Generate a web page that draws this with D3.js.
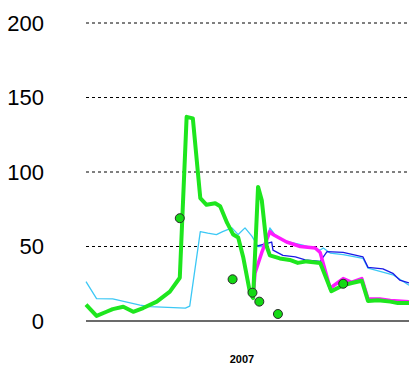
<!DOCTYPE html>
<html>
<head>
<meta charset="utf-8">
<script src="https://cdn.jsdelivr.net/npm/d3@7"></script>
<style>
  body { margin: 0; background: #fff; }
  svg { display: block; }
</style>
</head>
<body>
<div id="chart"></div>
<script>
// values: [week of 2007, value]
const yTicks = [0, 50, 100, 150, 200];
const xLabel = "2007";

const greenSeries = [
    [0, 11], [1.7, 3.4], [3.3, 6.2], [4.3, 8], [6, 9.6], [7.6, 6.2], [9.2, 8.7],
    [11.4, 13], [13.5, 19.7], [15.1, 29], [16.2, 137], [17.2, 136], [18.4, 82.5],
    [19.4, 78], [20.8, 79], [21.6, 77], [22.7, 66], [23.7, 58], [24.5, 56],
    [25.3, 43], [26.4, 19], [26.9, 15.4], [27.7, 90], [28.3, 81], [29.1, 50],
    [29.6, 44], [31.2, 42], [32.8, 41], [34.1, 39], [35.5, 40], [37.7, 39],
    [39.5, 20], [41.4, 24], [42.8, 25.5], [44.4, 27], [45.4, 13.5], [47, 14],
    [49, 13], [50.2, 12], [52, 12]
];

const magentaSeries = [
    [26.9, 15], [27.2, 32], [28.3, 46], [29.6, 60], [30.1, 58], [32.3, 53],
    [34.5, 50], [36.9, 49], [37.7, 46], [39.3, 22], [41.4, 28.5], [42.8, 26],
    [44.4, 28.5], [45.4, 14.8], [47.3, 14.8], [49, 13.8], [52, 13]
];

const blueSeries = [
    [27.3, 50], [29.9, 53], [30.1, 47.6], [31.7, 44], [33.7, 43], [35.3, 41],
    [37.7, 40], [38.8, 46.5], [41.4, 46], [44.6, 43], [45.4, 36], [47.8, 35],
    [49.4, 32], [50.5, 27.5], [52, 25.5]
];

const cyanSeries = [
    [0, 26.4], [1.7, 15], [4.3, 14.8], [8.7, 10.7], [10.3, 9.6], [16, 8.7],
    [16.7, 10], [18.4, 60], [19.6, 59], [21, 58], [22, 60], [23.5, 62.5],
    [24.5, 58], [25.6, 62.5], [26.7, 57], [27.7, 50], [28.8, 50], [29.6, 62.5],
    [30.4, 58], [31.7, 54], [34.9, 51], [37.7, 47.6], [38.2, 49], [39.3, 45.6],
    [41.4, 44.5], [44.6, 42], [45.4, 35.5], [49.4, 31], [52, 24]
];

const dotPoints = [
    [15.1, 69], [23.6, 28], [26.8, 19], [27.9, 13], [30.9, 4.7], [41.4, 25]
];

const width = 409, height = 367;
const margin = { top: 23, right: 0, bottom: 46, left: 86 };

const svg = d3.select("#chart")
    .append("svg")
    .attr("width", width)
    .attr("height", height);

const xScale = d3.scaleLinear()
    .domain([0, 52])
    .range([margin.left, width - margin.right]);

const yScale = d3.scaleLinear()
    .domain([0, 200])
    .range([height - margin.bottom, margin.top]);

// dashed gridlines
svg.append("g")
    .selectAll("line")
    .data(yTicks.filter(d => d > 0))
    .enter()
    .append("line")
    .attr("x1", margin.left)
    .attr("x2", width)
    .attr("y1", d => yScale(d))
    .attr("y2", d => yScale(d))
    .attr("stroke", "#000")
    .attr("stroke-width", 1)
    .attr("stroke-dasharray", "3,3");

// y tick labels
const yAxis = d3.axisLeft(yScale).tickValues(yTicks).tickSize(0).tickPadding(0);
const yg = svg.append("g")
    .attr("transform", `translate(44, 0)`)
    .call(yAxis);
yg.select(".domain").remove();
yg.selectAll("text")
    .style("font-family", "'Liberation Sans', Arial, sans-serif")
    .style("font-size", "22px")
    .attr("fill", "#000");

// x axis line
svg.append("line")
    .attr("x1", margin.left)
    .attr("x2", width)
    .attr("y1", yScale(0))
    .attr("y2", yScale(0))
    .attr("stroke", "#6b6b6b")
    .attr("stroke-width", 2);

svg.append("text")
    .attr("x", 242)
    .attr("y", 363)
    .attr("text-anchor", "middle")
    .style("font-family", "'Liberation Sans', Arial, sans-serif")
    .style("font-size", "11px")
    .style("font-weight", "bold")
    .text(xLabel);

const line = d3.line()
    .x(d => xScale(d[0]))
    .y(d => yScale(d[1]));

function drawLine(data, color, w) {
    svg.append("path")
        .datum(data)
        .attr("d", line)
        .attr("fill", "none")
        .attr("stroke", color)
        .attr("stroke-width", w)
        .attr("stroke-linejoin", "round");
}

drawLine(cyanSeries, "#3cc8f5", 1.3);
drawLine(blueSeries, "#1a1ae6", 1.3);
drawLine(magentaSeries, "#ff1aff", 3.5);
drawLine(greenSeries, "#1ee61e", 4);

svg.append("g")
    .selectAll("circle")
    .data(dotPoints)
    .enter()
    .append("circle")
    .attr("cx", d => xScale(d[0]))
    .attr("cy", d => yScale(d[1]))
    .attr("r", 4.5)
    .attr("fill", "#14d914")
    .attr("stroke", "#2a2a2a")
    .attr("stroke-width", 1);
</script>
</body>
</html>
